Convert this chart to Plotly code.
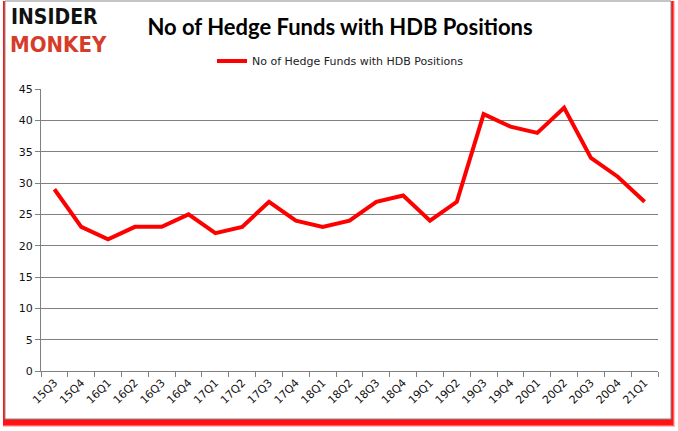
"""No of hedge funds with HDB positions"""

import plotly.graph_objects as go

quarters = ["15Q3", "15Q4", "16Q1", "16Q2", "16Q3", "16Q4", "17Q1", "17Q2",
            "17Q3", "17Q4", "18Q1", "18Q2", "18Q3", "18Q4", "19Q1", "19Q2",
            "19Q3", "19Q4", "20Q1", "20Q2", "20Q3", "20Q4", "21Q1"]
hedge_funds = [29, 23, 21, 23, 23, 25, 22, 23, 27, 24, 23, 24, 27, 28, 24, 27,
               41, 39, 38, 42, 34, 31, 27]
y_ticks = [0, 5, 10, 15, 20, 25, 30, 35, 40, 45]

W, H = 678, 431
# plot area in pixels
L, R, T, B = 41, 658, 89, 371


def px_x(v):
    return (v - L) / (R - L)


def px_y(v):
    return (B - v) / (B - T)


fig = go.Figure()
fig.add_trace(go.Scatter(x=quarters, y=hedge_funds, mode="lines",
                         name="No of Hedge Funds with HDB Positions",
                         line=dict(color="#ff0000", width=4)))

shapes = []
# red blurry shadow round the frame
for off, op in [(4, 0.25), (3, 0.5), (2, 0.8)]:
    shapes.append(dict(type="rect", xref="paper", yref="paper", layer="below",
                       x0=px_x(5 - 2), x1=px_x(671 + off),
                       y0=px_y(419 + off + 4), y1=px_y(1),
                       fillcolor="rgba(255,0,0,%s)" % op, line_width=0))
shapes.append(dict(type="rect", xref="paper", yref="paper", layer="below",
                   x0=px_x(5), x1=px_x(671), y0=px_y(419), y1=px_y(1),
                   fillcolor="white", line=dict(color="#8c8c8c", width=1)))

fig.update_layout(
    width=W, height=H,
    margin=dict(l=L, r=W - R, t=T, b=H - B, pad=0),
    paper_bgcolor="white",
    plot_bgcolor="rgba(0,0,0,0)",
    shapes=shapes,
    title=dict(text="<b>No of Hedge Funds with HDB Positions</b>",
               x=340 / W, xanchor="center",
               y=1 - 27 / H, yanchor="middle",
               font=dict(family="Lato", size=22, color="black")),
    showlegend=True,
    legend=dict(orientation="h", x=px_x(212), y=px_y(61), xanchor="left",
                yanchor="middle", font=dict(family="DejaVu Sans", size=11,
                                            color="#222222"),
                bgcolor="rgba(0,0,0,0)"),
    xaxis=dict(type="category", range=[-0.5, len(quarters) - 0.5],
               tickson="boundaries", ticks="outside", ticklen=5,
               tickcolor="#808080", showline=True, linecolor="#808080",
               showgrid=False, tickangle=-45,
               tickfont=dict(family="DejaVu Sans", size=11, color="#111111")),
    yaxis=dict(range=[0, 45], tickvals=y_ticks, ticks="outside", ticklen=5,
               tickcolor="#808080", showline=True, linecolor="#808080",
               gridcolor="#808080", gridwidth=1, zeroline=False,
               tickfont=dict(family="DejaVu Sans", size=11, color="#111111")),
    annotations=[
        dict(text="<b>INSIDER</b>", xref="paper", yref="paper",
             x=px_x(9), y=px_y(17), xanchor="left", yanchor="middle",
             showarrow=False,
             font=dict(family="DejaVu Sans Condensed", size=21,
                       color="#111111")),
        dict(text="<b>MONKEY</b>", xref="paper", yref="paper",
             x=px_x(8), y=px_y(44), xanchor="left", yanchor="middle",
             showarrow=False,
             font=dict(family="DejaVu Sans Condensed", size=22,
                       color="#d63c2a")),
    ],
)

# drop the browser's default body margin so the frame sits at the page edge
fig.write_html("out.html", config={"displayModeBar": False},
               post_script="document.body.style.margin='0px';")
